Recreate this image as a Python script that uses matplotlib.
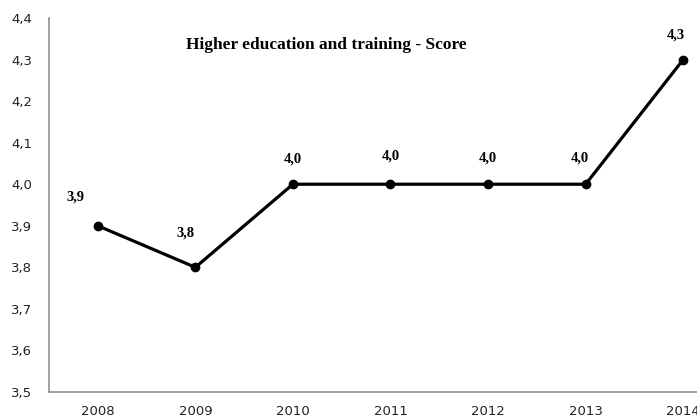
import matplotlib
matplotlib.use("Agg")
import matplotlib.pyplot as plt

years = ["2008", "2009", "2010", "2011", "2012", "2013", "2014"]
scores = [3.9, 3.8, 4.0, 4.0, 4.0, 4.0, 4.3]
yticks = [3.5, 3.6, 3.7, 3.8, 3.9, 4.0, 4.1, 4.2, 4.3, 4.4]

fig = plt.figure(figsize=(6.97, 4.19), dpi=100)
# axes reach past the right edge, the original picture is cropped there
ax = fig.add_axes([49/697, 27/419, 683/697, 374/419])

x = list(range(len(years)))
ax.plot(x, scores, color="black", linewidth=2.3, marker="o", markersize=6)

# label offsets in points (dx, dy)
offsets = [(-16, 21), (-7, 25), (0, 18), (0, 20), (0, 19), (-4, 19), (-5, 18)]
for xi, v, off in zip(x, scores, offsets):
    ax.annotate(f"{v:.1f}".replace(".", ","), (xi, v), xytext=off,
                textcoords="offset points", ha="center", va="center",
                fontfamily="Liberation Serif", fontweight="bold", fontsize=10.5)

ax.text(0.406, 0.927, "Higher education and training - Score", transform=ax.transAxes,
        ha="center", va="center", fontfamily="Liberation Serif",
        fontweight="bold", fontsize=12.5)

ax.set_xlim(-0.5, 6.5)
ax.set_ylim(3.5, 4.4)
ax.set_xticks(x)
ax.set_xticklabels(years, fontfamily="DejaVu Sans", fontsize=9.5, color="#222222")
ax.set_yticks(yticks)
ax.set_yticklabels([f"{t:.1f}".replace(".", ",") for t in yticks],
                   fontfamily="DejaVu Sans", fontsize=9.5, color="#222222")
ax.tick_params(length=0)
ax.tick_params(axis="x", pad=9)
ax.tick_params(axis="y", pad=12)
for s in ["top", "right"]:
    ax.spines[s].set_visible(False)
for s in ["left", "bottom"]:
    ax.spines[s].set_color("#909090")
    ax.spines[s].set_linewidth(1.2)

fig.savefig("out.png", dpi=100)
